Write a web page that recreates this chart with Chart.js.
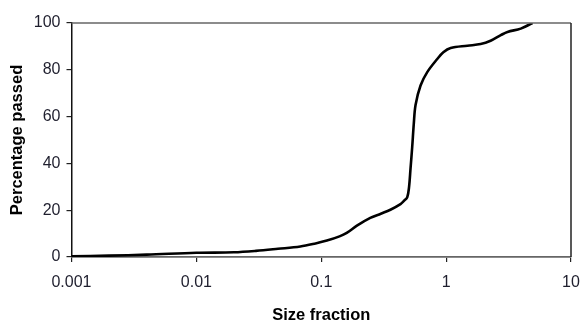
<!DOCTYPE html>
<html>
<head>
<meta charset="utf-8">
<script src="https://cdn.jsdelivr.net/npm/chart.js@4/dist/chart.umd.min.js"></script>
<style>
html,body{margin:0;padding:0;background:#fff;}
canvas{display:block;}
</style>
</head>
<body>
<canvas id="c" width="580" height="323"></canvas>
<script>
const sizes = [0.001,0.002,0.004,0.01,0.02,0.03,0.045,0.068,0.09,0.111,0.14,0.16,0.193,0.247,0.3,0.358,0.431,0.46,0.488,0.505,0.519,0.535,0.551,0.569,0.624,0.706,0.849,0.95,1.087,1.48,1.89,2.27,2.74,3.1,3.96,4.92];
const passed = [0.3,0.6,1.0,1.8,2.0,2.6,3.5,4.5,5.8,7.0,8.8,10.3,13.4,16.7,18.5,20.2,22.6,24.0,25.5,30,38,47,57,65,73.3,79,84.6,87.5,89.3,90.3,91,92.4,94.8,96.2,97.6,100];
const xTicks = [0.001,0.01,0.1,1,10];
const yTicks = [0,20,40,60,80,100];

const pts = sizes.map((s,i)=>({x:s,y:passed[i]}));

const framePlugin = {
  id:'frame',
  afterDraw(chart){
    const a = chart.chartArea, ctx = chart.ctx;
    ctx.save();
    ctx.lineWidth = 1.5;
    ctx.strokeStyle = '#666';
    ctx.beginPath();
    ctx.moveTo(a.left, a.top); ctx.lineTo(a.right, a.top);
    ctx.stroke();
    ctx.strokeStyle = '#222';
    ctx.beginPath();
    ctx.moveTo(a.right, a.top); ctx.lineTo(a.right, a.bottom);
    ctx.stroke();
    ctx.restore();
  }
};

new Chart(document.getElementById('c'), {
  type:'scatter',
  data:{datasets:[{data:pts, showLine:true, borderColor:'#000', borderWidth:2.6, pointRadius:0, tension:0.35, fill:false}]},
  options:{
    responsive:false, animation:false, devicePixelRatio:1,
    layout:{padding:{left:8,right:0,top:23,bottom:-2}},
    plugins:{legend:{display:false}, tooltip:{enabled:false}},
    scales:{
      x:{
        type:'logarithmic', min:0.001, max:10,
        afterBuildTicks(s){ s.ticks = xTicks.map(v=>({value:v})); },
        afterFit(s){ s.paddingRight = 9; },
        ticks:{callback:v=>String(v), color:'#1f1f2e', font:{family:'Liberation Sans, Arial', size:16}, padding:11, maxRotation:0, autoSkip:false},
        grid:{drawOnChartArea:false, tickLength:5, color:'#222', lineWidth:1.2},
        border:{color:'#666', width:1.8},
        title:{display:true, text:'Size fraction', color:'#000', font:{family:'Liberation Sans, Arial', size:16.5, weight:'bold'}, padding:{top:2,bottom:0}}
      },
      y:{
        min:0, max:100,
        afterBuildTicks(s){ s.ticks = yTicks.map(v=>({value:v})); },
        ticks:{color:'#1f1f2e', font:{family:'Liberation Sans, Arial', size:16}, padding:6},
        grid:{drawOnChartArea:false, tickLength:5, color:'#222', lineWidth:1.2},
        border:{color:'#111', width:1.5},
        title:{display:true, text:'Percentage passed', color:'#000', font:{family:'Liberation Sans, Arial', size:16.5, weight:'bold'}, padding:{top:0,bottom:0}}
      }
    }
  },
  plugins:[framePlugin]
});
</script>
</body>
</html>
